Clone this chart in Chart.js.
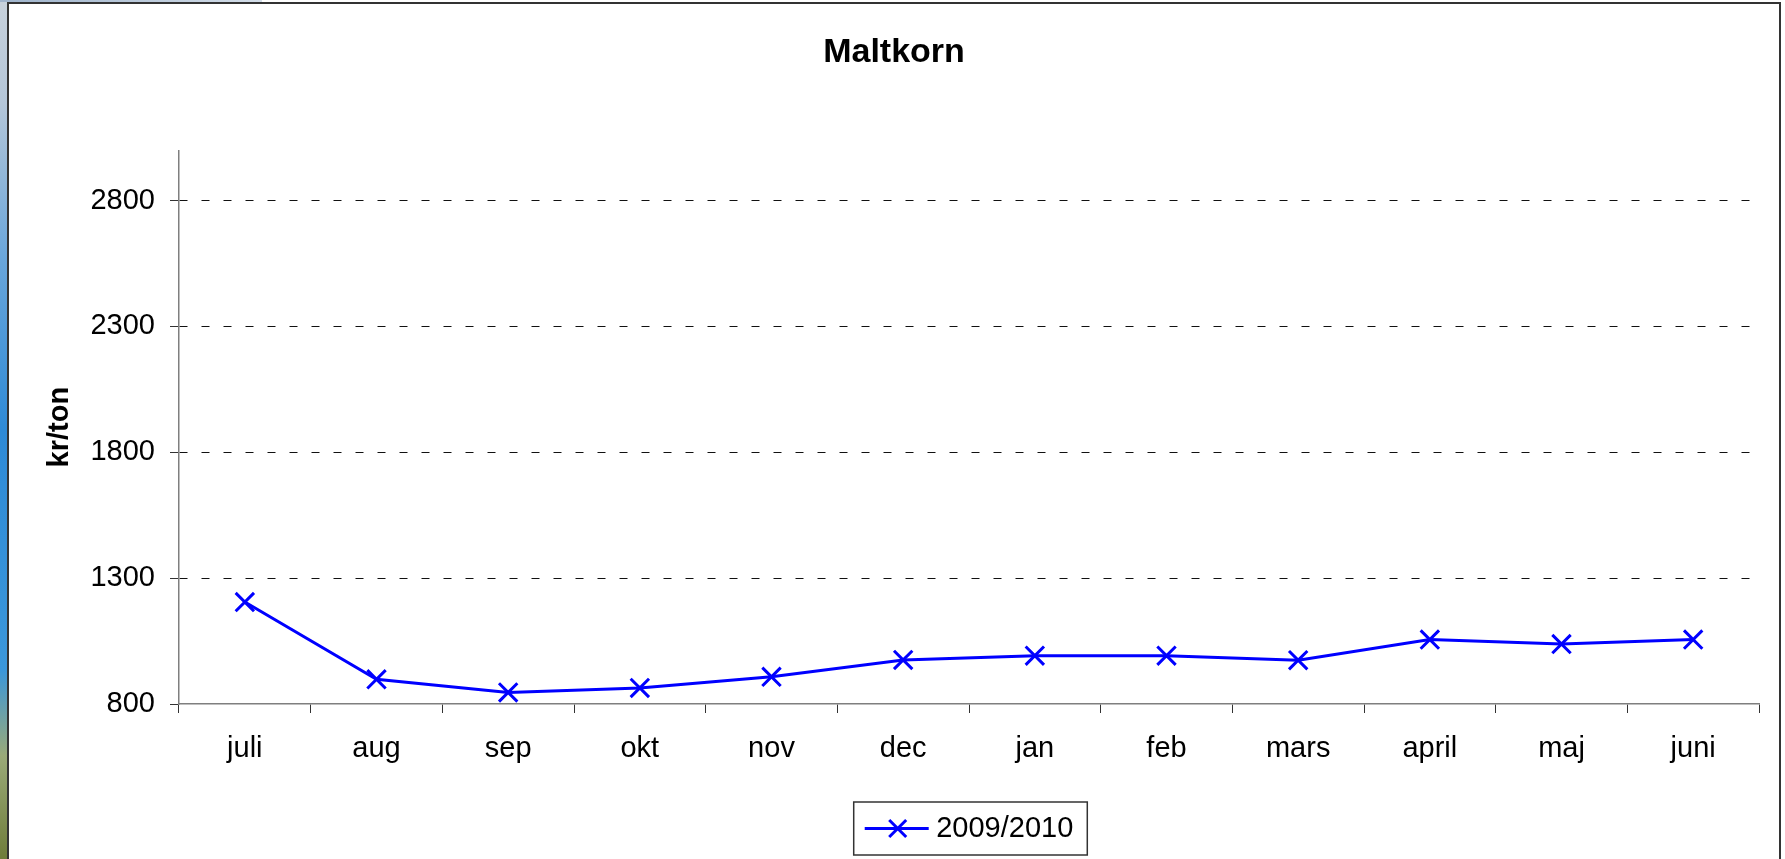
<!DOCTYPE html>
<html>
<head>
<meta charset="utf-8">
<script src="https://cdn.jsdelivr.net/npm/chart.js@4.4.1/dist/chart.umd.min.js"></script>
<style>
html, body { margin: 0; padding: 0; width: 1785px; height: 859px; overflow: hidden; background: #ffffff; }
#strip { position: absolute; left: 0; top: 0; width: 8px; height: 859px;
  background: linear-gradient(to bottom, #c8d2dc 0%, #b4c6d8 12%, #6aa6da 30%, #2e8ad6 50%, #3b97da 78%, #9aaa78 88%, #6f7c3a 100%); }
#topstrip { position: absolute; left: 0; top: 0; width: 262px; height: 2px;
  background: linear-gradient(to right, #9fb4cc, #d3dde8); }
#frame { position: absolute; left: 7px; top: 2px; width: 1774px; height: 900px; box-sizing: border-box;
  border: 2px solid #333333; background: #ffffff; }
#c { position: absolute; left: 0; top: 0; }
</style>
</head>
<body>
<div id="strip"></div>
<div id="topstrip"></div>
<div id="frame"></div>
<canvas id="c" width="1785" height="859"></canvas>
<script>
// ---- data ----
const chartTitle = 'Maltkorn';
const yAxisTitle = 'kr/ton';
const months = ['juli', 'aug', 'sep', 'okt', 'nov', 'dec', 'jan', 'feb', 'mars', 'april', 'maj', 'juni'];
const seriesLabel = '2009/2010';
const prices = [1205, 898, 846, 864, 908, 975, 992, 992, 974, 1056, 1038, 1056];
const yTicks = [800, 1300, 1800, 2300, 2800];
const yMin = 800;
const yMax = 3000;

// ---- styling ----
const FONT = "'Liberation Sans', Arial, Helvetica, sans-serif";
const BLUE = '#0000ff';

const legendDecor = {
  id: 'legendDecor',
  afterDraw(chart) {
    const lg = chart.legend;
    if (!lg || !lg.legendHitBoxes || !lg.legendHitBoxes.length) return;
    const hb = lg.legendHitBoxes[0];
    const ctx = chart.ctx;
    const cy = hb.top + hb.height / 2;
    ctx.save();
    ctx.strokeStyle = '#333333';
    ctx.lineWidth = 1.5;
    ctx.strokeRect(hb.left - 11, cy - 26.5, hb.width + 25, 53);
    ctx.strokeStyle = BLUE;
    ctx.lineWidth = 3;
    ctx.beginPath();
    ctx.moveTo(hb.left, cy);
    ctx.lineTo(hb.left + 64, cy);
    ctx.stroke();
    const mx = hb.left + 33, r = 8.5;
    ctx.beginPath();
    ctx.moveTo(mx - r, cy - r); ctx.lineTo(mx + r, cy + r);
    ctx.moveTo(mx + r, cy - r); ctx.lineTo(mx - r, cy + r);
    ctx.stroke();
    ctx.restore();
  }
};

new Chart(document.getElementById('c'), {
  type: 'line',
  data: {
    labels: months,
    datasets: [{
      label: seriesLabel,
      data: prices,
      borderColor: BLUE,
      backgroundColor: BLUE,
      borderWidth: 3,
      pointStyle: 'crossRot',
      pointRadius: 13,
      pointBorderWidth: 3,
      pointBorderColor: BLUE,
      pointBackgroundColor: BLUE,
      tension: 0,
      fill: false
    }]
  },
  options: {
    responsive: false,
    animation: false,
    layout: { padding: { left: 29, right: 26, top: 0, bottom: 6 } },
    plugins: {
      title: {
        display: true,
        text: chartTitle,
        color: '#000000',
        font: { family: FONT, size: 34, weight: 'bold' },
        padding: { top: 32, bottom: 77.5 }
      },
      legend: {
        display: true,
        position: 'bottom',
        fullSize: false,
        labels: {
          color: '#000000',
          font: { family: FONT, size: 29 },
          boxWidth: 57,
          boxHeight: 3,
          padding: 48,
          generateLabels: () => [{
            text: seriesLabel,
            fillStyle: 'rgba(0,0,0,0)',
            strokeStyle: 'rgba(0,0,0,0)',
            lineWidth: 0,
            datasetIndex: 0,
            hidden: false
          }]
        }
      },
      tooltip: { enabled: false }
    },
    scales: {
      x: {
        offset: true,
        afterFit: s => { s.height = 62; },
        grid: {
          display: true,
          offset: true,
          drawOnChartArea: false,
          tickLength: 9,
          color: '#333333',
          tickColor: '#333333',
          lineWidth: 1
        },
        border: { display: true, color: '#7f7f7f', width: 1.5 },
        ticks: { color: '#000000', font: { family: FONT, size: 29 }, padding: 18.6, maxRotation: 0, autoSkip: false }
      },
      y: {
        min: yMin,
        max: yMax,
        afterBuildTicks: s => { s.ticks = yTicks.map(v => ({ value: v })); },
        afterFit: s => { s.width = 150; },
        grid: {
          display: true,
          drawOnChartArea: true,
          tickLength: 9,
          color: c => (c.tick && c.tick.value === yMin) ? 'rgba(0,0,0,0)' : '#111111',
          tickColor: '#333333',
          tickBorderDash: [],
          lineWidth: 1
        },
        border: { display: true, color: '#7f7f7f', width: 1.5, dash: [8, 14] },
        ticks: {
          color: '#000000',
          font: { family: FONT, size: 29 },
          padding: 15,
          callback: v => String(v)
        },
        title: {
          display: true,
          text: yAxisTitle,
          color: '#000000',
          font: { family: FONT, size: 29, weight: 'bold' },
          padding: { top: 13.6, bottom: 0 }
        }
      }
    }
  },
  plugins: [legendDecor]
});
</script>
</body>
</html>
